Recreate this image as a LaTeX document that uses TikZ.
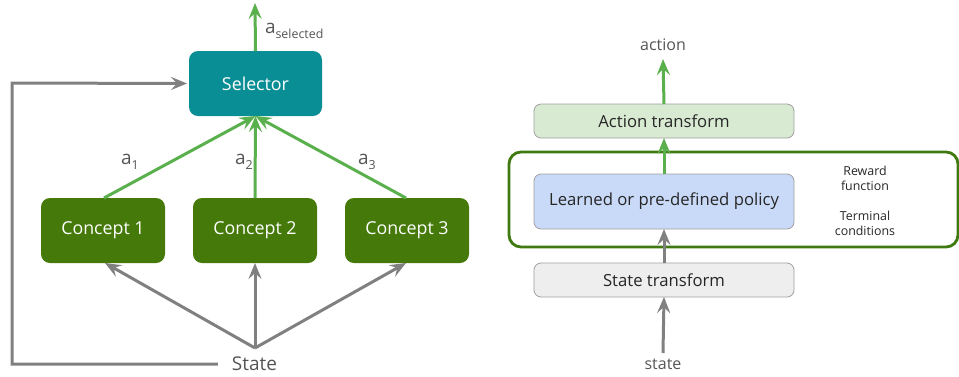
\documentclass[tikz,border=0pt]{standalone}
\usepackage{fontspec}
\setmainfont{Open Sans}
\usetikzlibrary{arrows.meta}
\definecolor{teal1}{HTML}{0A8E96}
\definecolor{dgreen}{HTML}{457A0A}
\definecolor{lgreen}{HTML}{5AB04C}
\definecolor{agrey}{HTML}{808080}
\definecolor{tgrey}{HTML}{555555}
\definecolor{actfill}{HTML}{D9EAD3}
\definecolor{polfill}{HTML}{C9DAF8}
\definecolor{stfill}{HTML}{EEEEEE}
\definecolor{boxline}{HTML}{A0A0A0}
\definecolor{envline}{HTML}{3F7A10}
\begin{document}
\begin{tikzpicture}[x=1pt,y=-1pt,
  every node/.style={inner sep=0pt,outer sep=0pt},
  tip/.style={-{Stealth[length=16pt,width=13pt,inset=6pt]}},
  garrow/.style={tip,draw=lgreen,line width=3pt},
  grarrow/.style={tip,draw=agrey,line width=3pt},
  concept/.style={draw=none,fill=dgreen,rounded corners=9pt,minimum width=124pt,minimum height=65pt,text=white,font=\fontsize{17.8}{21}\selectfont},
  wide/.style={draw=boxline,line width=0.8pt,rounded corners=7pt,minimum width=260pt,text=black!85,font=\fontsize{16.7}{20}\selectfont},
  lbl/.style={text=tgrey,font=\fontsize{16}{19}\selectfont},
  big/.style={text=tgrey,font=\fontsize{19}{22}\selectfont},
  small/.style={text=black!85,font=\fontsize{12.4}{15}\selectfont,align=center}]
\useasboundingbox (0,0) rectangle (959,376);
\newcommand{\sub}[1]{\raisebox{-4.5pt}{\fontsize{12.4}{13}\selectfont #1}}
% left panel
\node[concept,fill=teal1,minimum width=133pt] (sel) at (255.5,83.5) {Selector};
\node[concept] (c1) at (103,230.5) {Concept 1};
\node[concept] (c2) at (255,230.5) {Concept 2};
\node[concept] (c3) at (407,230.5) {Concept 3};
\node[big] (st) at (254.5,364) {State};
\coordinate (top) at (255,3);
\coordinate (fb1) at (12,364);
\coordinate (fb2) at (12,83);
\draw[garrow] (sel.north) -- (top);
\node[big,anchor=west] (asel) at (265,31) {a\sub{selected}};
\draw[garrow] ([xshift=1pt]c1.north) -- (sel.south);
\draw[garrow] (c2.north) -- (sel.south);
\draw[garrow] ([xshift=-1pt]c3.north) -- (sel.south);
\node[big] (a1) at (130,162) {a\sub{1}};
\node[big] (a2) at (244,162) {a\sub{2}};
\node[big] (a3) at (367,162) {a\sub{3}};
\coordinate (sj) at (255,348);
\draw[grarrow] (sj) -- ([xshift=2pt]c1.south);
\draw[grarrow] (sj) -- (c2.south);
\draw[grarrow] (sj) -- ([xshift=-1pt]c3.south);
\draw[grarrow] ([xshift=-14pt]st.west) -- (fb1) -- (fb2) -- ([xshift=-2pt]sel.west);
% right panel
\draw[envline,line width=2.8pt,rounded corners=12pt] (509,152) rectangle (958,247);
\node[wide,fill=actfill,minimum height=34pt] (act) at (664,121) {Action transform};
\node[wide,fill=polfill,minimum height=55pt] (pol) at (664,201.5) {Learned or pre-defined policy};
\node[wide,fill=stfill,minimum height=34pt] (stt) at (664,280) {State transform};
\node[lbl] (action) at (663,45) {action};
\node[lbl] (state) at (663,364) {state};
\coordinate (actin) at (663,59);
\coordinate (stout) at (663,353);
\draw[garrow] (act.north) -- (actin);
\draw[garrow] (pol.north) -- (act.south);
\draw[grarrow] (stt.north) -- (pol.south);
\draw[grarrow] (stout) -- (stt.south);
\node[small] (rew) at (865,178) {Reward\\function};
\node[small] (term) at (865,223) {Terminal\\conditions};
\end{tikzpicture}
\end{document}
